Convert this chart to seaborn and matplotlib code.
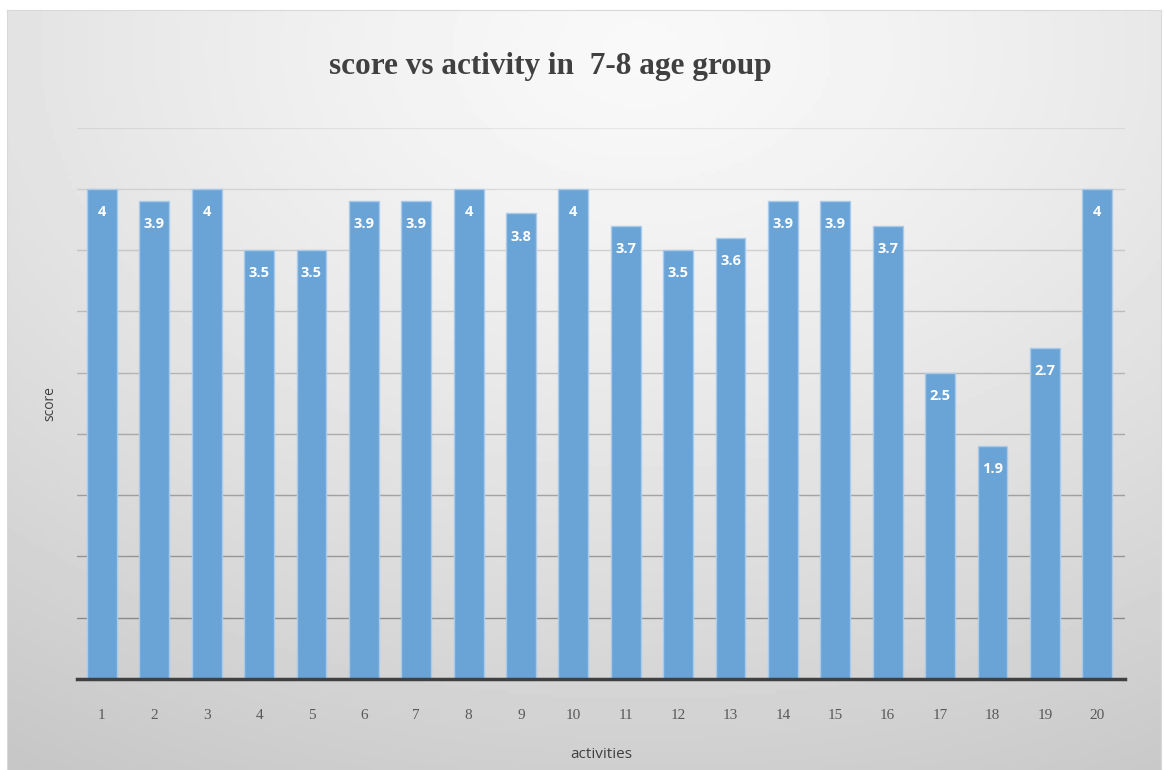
import numpy as np
import pandas as pd
import seaborn as sns
import matplotlib.pyplot as plt

# data
activities = [str(i) for i in range(1, 21)]
scores = [4, 3.9, 4, 3.5, 3.5, 3.9, 3.9, 4, 3.8, 4, 3.7, 3.5, 3.6, 3.9, 3.9, 3.7, 2.5, 1.9, 2.7, 4]
yticks = [0, 0.5, 1, 1.5, 2, 2.5, 3, 3.5, 4, 4.5]

df = pd.DataFrame({'activities': activities, 'score': scores})

sns.set_style('white')
fig = plt.figure(figsize=(11.64, 7.7), dpi=100)

# gradient background (light near top centre, darker to the edges)
bg = fig.add_axes([0.006, 0.0, 0.991, 0.987])
yy, xx = np.mgrid[0:1:200j, 0:1:300j]
d = np.sqrt(((xx - 0.55) * 0.95) ** 2 + ((yy - 0.05) * 0.9) ** 2)
shade = np.clip(0.975 - 0.2 * d ** 1.3, 0.77, 1.0)
bg.imshow(shade, cmap='gray', vmin=0, vmax=1, aspect='auto', extent=[0, 1, 1, 0])
bg.set_xticks([])
bg.set_yticks([])
for s in bg.spines.values():
    s.set_color('#d9d9d9')

ax = fig.add_axes([0.066, 0.1182, 0.9005, 0.716])
ax.patch.set_alpha(0)
sns.barplot(data=df, x='activities', y='score', color='#6aa3d6', width=0.57,
            edgecolor='#a9cbeb', linewidth=1, saturation=1, ax=ax, zorder=3)

for i, v in enumerate(scores):
    ax.text(i, v - 0.19, f'{v:g}', ha='center', va='center', color='white',
            fontsize=10.5, fontweight='bold', family='Open Sans', zorder=4)

# gridlines fade towards the top like the original
for t in yticks[1:]:
    ax.axhline(t, color='black', linewidth=1, alpha=0.38 - 0.07 * t, zorder=1)

ax.set_ylim(0, 4.5)
ax.set_xlim(-0.48, 19.53)
ax.tick_params(axis='y', left=False, labelleft=False)
ax.tick_params(axis='x', bottom=False, pad=18, labelsize=11, labelcolor='#595959')
for lab in ax.get_xticklabels():
    lab.set_family('Liberation Serif')
for side in ['top', 'right', 'left']:
    ax.spines[side].set_visible(False)
ax.spines['bottom'].set_color('#404040')
ax.spines['bottom'].set_linewidth(2.5)
ax.spines['bottom'].set_zorder(5)

ax.set_xlabel('activities', fontsize=11, color='#404040', labelpad=18, family='Open Sans')
ax.set_ylabel('score', fontsize=10, color='#404040', labelpad=14, family='Open Sans')

fig.text(0.473, 0.913, 'score vs activity in  7-8 age group', ha='center', va='center',
         fontsize=22.5, fontweight='bold', color='#404040', family='Liberation Serif')

fig.savefig('out.png', dpi=100)
